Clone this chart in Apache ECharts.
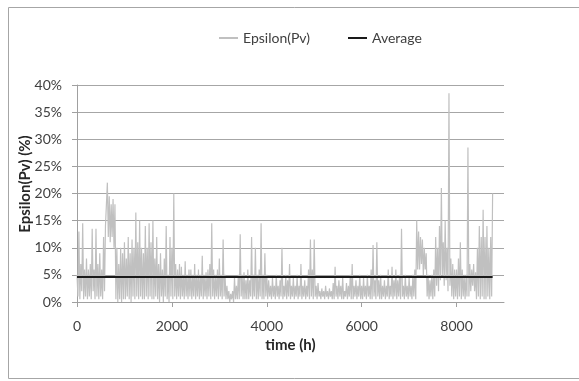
<!DOCTYPE html>
<html>
<head>
<meta charset="utf-8">
<script src="https://cdn.jsdelivr.net/npm/echarts@6/dist/echarts.min.js"></script>
<style>
  html, body { margin: 0; padding: 0; background: #fff; }
  #chart { width: 579px; height: 381px; }
</style>
</head>
<body>
<div id="chart"></div>
<script>
// hourly epsilon(Pv) (%), one value every stepHours
var stepHours = 20;
var epsilon = [
  5, 1, 13, 0.5, 7, 2, 14.5, 0.5, 6, 1,
  8, 0.5, 6, 1, 7, 0.5, 13.5, 2, 6, 0.5,
  13.5, 1, 7, 0.5, 9, 1, 6, 0.5, 12, 2,
  14, 18, 22, 12, 19.5, 11, 18, 12, 19, 10,
  18, 0.5, 10, 0, 7, 0.5, 10, 0, 9, 0.5,
  11, 0.5, 8, 1, 12, 0.5, 9, 0, 11.5, 1,
  10, 0.5, 16.5, 1, 11, 0.5, 15, 1, 10, 0.5,
  9, 0.5, 14, 1, 10, 0.5, 14.5, 1, 11, 0.5,
  15, 0.5, 8, 1, 12, 0.5, 7, 0, 9, 1,
  6, 0, 8, 1, 14, 0.5, 5, 0, 12, 1,
  10, 0.5, 20, 1, 7, 0.5, 6, 1, 7, 0.5,
  6.5, 1, 5, 0.5, 7.5, 1, 5, 0.5, 6, 1,
  6, 0.5, 5, 1, 7, 0.5, 5, 1, 6, 0.5,
  5, 1, 8.5, 0.5, 5, 1, 5.5, 0.5, 6, 1,
  7, 0.5, 14.5, 1, 6, 0.5, 5, 1, 6, 0.5,
  8, 1, 5, 0.5, 11.5, 1, 5, 0.5, 3, 0.5,
  2, 0, 1.5, 0.5, 2, 0, 4.5, 0.5, 3, 0.5,
  5, 0.5, 12.5, 1, 5, 0.5, 5.5, 0.5, 4, 0.5,
  6, 0.5, 4, 1, 12, 0.5, 5, 1, 10, 0.5,
  5, 0.5, 6, 1, 14.5, 0.5, 5, 0.5, 9, 1,
  5, 0.5, 4, 1, 3, 0.5, 4.5, 1, 3, 0.5,
  5, 1, 3, 0.5, 4, 1, 10, 0.5, 3, 1,
  5, 0.5, 4, 1, 7, 0.5, 3, 1, 4.5, 0.5,
  3, 1, 5, 0.5, 3, 1, 7, 0.5, 3, 1,
  4, 0.5, 3, 1, 6, 0.5, 11.5, 1, 6, 0.5,
  11.5, 1, 3, 0.5, 3.5, 1, 2, 0.5, 2.5, 1,
  2, 0.5, 3, 1, 2, 0.5, 2.5, 1, 2, 0.5,
  3.5, 0.5, 6.5, 1, 3, 0.5, 4, 1, 3, 0.5,
  4.5, 0.5, 2, 1, 3.5, 0.5, 3, 1, 5, 0.5,
  7, 0.5, 3, 1, 4, 0.5, 3, 1, 5, 0.5,
  3, 0.5, 4.5, 1, 3, 0.5, 5, 1, 3, 0.5,
  6, 0.5, 10.5, 1, 4, 0.5, 11, 1, 4, 0.5,
  5, 0.5, 3, 1, 4, 0.5, 3, 1, 6, 0.5,
  3, 1, 6.5, 0.5, 4, 1, 6, 0.5, 4, 1,
  5, 0.5, 13.5, 1, 3, 0.5, 5, 1, 3, 0.5,
  4.5, 1, 3, 0.5, 5, 1, 6, 0.5, 15, 6,
  13, 6, 12, 7, 11.5, 5, 10, 6, 9, 1,
  5, 0.5, 4, 1, 5, 0.5, 6, 1, 12, 3,
  10, 2, 14, 4, 21, 5, 11, 3, 15, 4,
  10, 2, 38.5, 3, 8, 1, 7, 0.5, 6, 1,
  6, 0.5, 8, 1, 11, 0.5, 6, 1, 5, 0.5,
  5, 1, 28.5, 1, 7, 2, 6, 3, 7, 2,
  5.5, 0.5, 10, 1, 14, 0.5, 12, 1, 17, 0.5,
  12, 0.5, 14, 1, 10, 0.5, 12, 1, 20
];
var averageValue = 4.6;
var xTicks = [0, 2000, 4000, 6000, 8000];

var epsData = [];
for (var i = 0; i < epsilon.length; i++) {
  epsData.push([i * stepHours, epsilon[i]]);
}
var lastHour = (epsilon.length - 1) * stepHours;
var avgData = [[0, averageValue], [lastHour, averageValue]];

var font = 'Lato, "Open Sans", sans-serif';
var myChart = echarts.init(document.getElementById('chart'));

var option = {
  animation: false,
  backgroundColor: '#fff',
  textStyle: { fontFamily: font },
  graphic: [
    {
      type: 'rect',
      shape: { x: 8.5, y: 7.5, width: 620, height: 371 },
      style: { fill: 'none', stroke: '#a6a6a6', lineWidth: 1 },
      silent: true
    },
    {
      // y axis title, placed like the Excel one (a bit above the plot centre)
      type: 'text',
      x: 25,
      y: 184,
      rotation: Math.PI / 2,
      style: {
        text: 'Epsilon(Pv) (%)',
        font: 'bold 15px ' + font,
        fill: '#262626',
        align: 'center',
        verticalAlign: 'middle'
      },
      silent: true
    }
  ],
  legend: {
    left: 213,
    top: 26,
    itemWidth: 19,
    itemHeight: 14,
    itemGap: 37,
    itemStyle: { opacity: 0 },
    textStyle: { fontFamily: font, fontSize: 14, color: '#404040' },
    data: ['Epsilon(Pv)', 'Average']
  },
  grid: { left: 77, right: 75, top: 85, bottom: 79 },
  xAxis: {
    type: 'value',
    min: 0,
    max: 9000,
    interval: 2000,
    name: 'time (h)',
    nameLocation: 'middle',
    nameGap: 31,
    nameTextStyle: { fontFamily: font, fontSize: 15, fontWeight: 'bold', color: '#262626' },
    axisLine: { lineStyle: { color: '#a0a0a0', width: 1 } },
    axisTick: { show: true, length: 5, customValues: xTicks, lineStyle: { color: '#a0a0a0' } },
    axisLabel: {
      customValues: xTicks,
      margin: 17, fontSize: 14, color: '#404040', fontFamily: font,
      formatter: function (v) { return String(v); }
    },
    splitLine: { show: false }
  },
  yAxis: {
    type: 'value',
    min: 0,
    max: 40,
    interval: 5,
    axisLine: { show: true, lineStyle: { color: '#a0a0a0', width: 1 } },
    axisTick: { show: true, length: 5, lineStyle: { color: '#a0a0a0' } },
    axisLabel: { formatter: '{value}%', margin: 15, fontSize: 14, color: '#404040', fontFamily: font },
    splitLine: { show: true, lineStyle: { color: '#a6a6a6', width: 1 } }
  },
  series: [
    {
      name: 'Epsilon(Pv)',
      type: 'line',
      data: epsData,
      symbol: 'none',
      lineStyle: { color: '#c0c0c0', width: 1.2 },
      itemStyle: { color: '#c0c0c0' }
    },
    {
      name: 'Average',
      type: 'line',
      data: avgData,
      symbol: 'none',
      lineStyle: { color: '#1a1a1a', width: 2 },
      itemStyle: { color: '#1a1a1a' }
    }
  ]
};

if (option && typeof option === "object") {
  myChart.setOption(option, true);
}
</script>
</body>
</html>
